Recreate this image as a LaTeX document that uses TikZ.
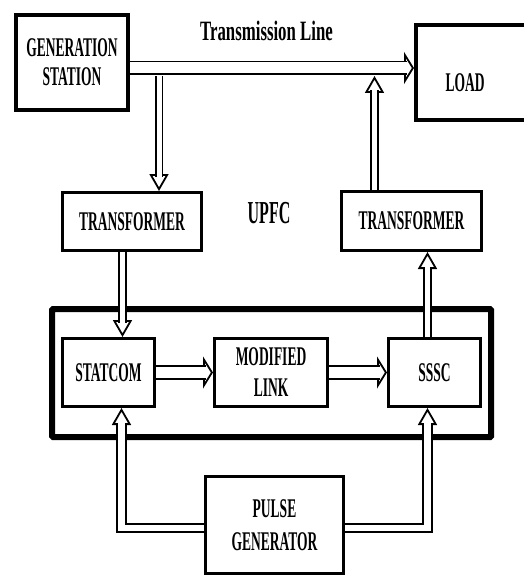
\documentclass[tikz,border=0pt]{standalone}
\usepackage{fontspec}
\setmainfont{Liberation Serif}[FakeStretch=0.5]
\newfontfamily\linefont{Liberation Serif}[FakeStretch=0.6]
\usepackage{tikz}
\usetikzlibrary{arrows.meta,positioning}
\tikzset{
  pwrtext/.style={font=\fontsize{27}{29}\selectfont\bfseries},
  pwrbox/.style={draw,line width=3pt,inner sep=0pt,align=center,pwrtext},
  pwrbig/.style={font=\fontsize{32}{32}\selectfont\bfseries,inner sep=0pt},
  pwrhshaft/.style={draw=black,double=white,line width=1.8pt,double distance=11pt},
  pwrvshaft/.style={draw=black,double=white,line width=1.8pt,double distance=5pt},
  pwrlshaft/.style={draw=black,double=white,line width=1.8pt,double distance=6.5pt},
  pwrhflow/.style={pwrhshaft,-{Triangle[open,fill=white,line width=1.8pt,length=10pt,width=32pt]},postaction={pwrhshaft,-,shorten >=7.5pt}},
  pwrvflow/.style={pwrvshaft,-{Triangle[open,fill=white,line width=1.8pt,length=17pt,width=19pt]},postaction={pwrvshaft,-,shorten >=14.5pt}},
  pwrlflow/.style={pwrlshaft,-{Triangle[open,fill=white,line width=1.8pt,length=17pt,width=19pt]},postaction={pwrlshaft,-,shorten >=14.5pt}},
}

\begin{document}
\begin{tikzpicture}[x=1pt,y=-1pt]
\useasboundingbox (0,0) rectangle (523,575);
 % upfc frame
\node[draw,line width=6pt,rounded corners=1pt,minimum width=439pt,minimum height=128pt] (frame) at (271.5,373){};
\node[pwrbox,line width=4pt,minimum width=112pt,minimum height=95pt] (gen) at (72,62.5){GENERATION\\STATION};
\node[pwrbox,line width=4pt,minimum width=140pt,minimum height=95pt,anchor=north west,
  label={[pwrtext,xshift=-21pt,yshift=-10.5pt]center:LOAD}] (load) at (414,23){};
\node[pwrbox,minimum width=139pt,minimum height=58pt] (tr1) at (132,221.5){TRANSFORMER};
\node[pwrbox,minimum width=140pt,minimum height=59pt] (tr2) at (411.5,221){TRANSFORMER};
\node[pwrbox,minimum width=92pt,minimum height=68pt] (statcom) at (108.5,372.5){STATCOM};
\node[pwrbox,minimum width=113pt,minimum height=68pt,right=57pt of statcom] (modlink){MODIFIED\\[2pt]LINK};
\node[pwrbox,minimum width=92pt,minimum height=68pt,right=58pt of modlink] (sssc){SSSC};
\node[pwrbox,minimum width=138pt,minimum height=97pt] (pulse) at (274.5,525){PULSE\\[4pt]GENERATOR};
\node[pwrbig,font=\fontsize{28}{28}\selectfont\linefont\bfseries] (tline) at (266.5,31){Transmission Line};
\node[pwrbig] (upfc) at (269,213){UPFC};
\coordinate (tap1) at (159,76);
\coordinate (tap2) at (374.5,76);
 % power path
\draw[pwrhflow] (gen.east |- 0,68) -- (load.west |- 0,68);
\draw[pwrvflow] (tap1) -- (tap1 |- tr1.north);
\draw[pwrvflow] (tap2 |- tr2.north) -- (tap2);
\draw[pwrvflow] ([xshift=14pt]statcom.north |- tr1.south) -- ([xshift=14pt]statcom.north);
\draw[pwrvflow] ([xshift=-7pt]sssc.north) -- ([xshift=-7pt]sssc.north |- tr2.south);
\draw[pwrhflow] (statcom) -- (modlink);
\draw[pwrhflow] (modlink) -- (sssc);
 % gate pulses
\draw[pwrlflow] ([yshift=-3pt]pulse.west) -| ([xshift=13pt]statcom.south);
\draw[pwrlflow] ([yshift=-3pt]pulse.east) -| ([xshift=-7pt]sssc.south);
\end{tikzpicture}
\end{document}
